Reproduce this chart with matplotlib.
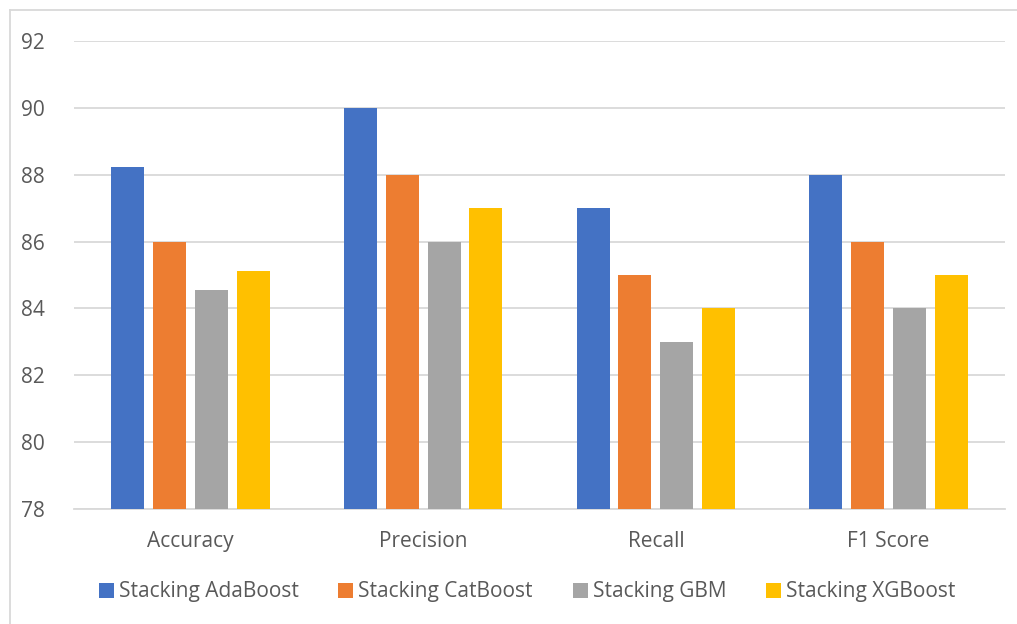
import matplotlib
matplotlib.use("Agg")
import matplotlib.pyplot as plt
from matplotlib.lines import Line2D
from matplotlib.patches import Patch
import numpy as np

categories = ["Accuracy", "Precision", "Recall", "F1 Score"]
series_names = ["Stacking AdaBoost", "Stacking CatBoost", "Stacking GBM", "Stacking XGBoost"]
adaboost = [88.22, 90, 87, 88]
catboost = [86, 88, 85, 86]
gbm = [84.55, 86, 83, 84]
xgboost = [85.12, 87, 84, 85]
y_ticks = [78, 80, 82, 84, 86, 88, 90, 92]

colors = ["#4472C4", "#ED7D31", "#A5A5A5", "#FFC000"]
text_color = "#595959"
grid_color = "#D9D9D9"

plt.rcParams["font.family"] = ["Open Sans", "DejaVu Sans"]

W, H = 1017, 624
fig = plt.figure(figsize=(W / 100, H / 100), dpi=100)
ax = fig.add_axes([74 / W, 1 - 509 / H, (1005 - 74) / W, (509 - 41) / H])

x = np.arange(len(categories))
bar_w = 0.142
step = 0.18
all_series = [adaboost, catboost, gbm, xgboost]
for i, (vals, col) in enumerate(zip(all_series, colors)):
    ax.bar(x + (i - 1.5) * step, np.array(vals) - 78, bottom=78, width=bar_w,
           color=col, zorder=3, linewidth=0)

ax.set_xlim(-0.5, len(categories) - 0.5)
ax.set_ylim(78, 92)
ax.set_yticks(y_ticks)
ax.set_xticks(x)
ax.set_xticklabels(categories)
ax.yaxis.grid(True, color=grid_color, linewidth=1.3, zorder=0)
ax.set_axisbelow(True)
for s in ["top", "right", "left"]:
    ax.spines[s].set_visible(False)
ax.spines["bottom"].set_color(grid_color)
ax.spines["bottom"].set_linewidth(1.3)
ax.tick_params(axis="both", length=0, colors=text_color, labelsize=15)
ax.tick_params(axis="y", pad=21)
ax.tick_params(axis="x", pad=16)

handles = [Patch(facecolor=c, edgecolor="none") for c in colors]
fig.legend(handles, series_names, loc="center", bbox_to_anchor=(527 / W, 1 - 592 / H),
           ncol=4, frameon=False, fontsize=15, labelcolor=text_color,
           handlelength=0.72, handleheight=0.72, handletextpad=0.25, columnspacing=1.9)

# chart frame
fig.add_artist(Line2D([10 / W, 1.0], [1 - 10 / H, 1 - 10 / H], color=grid_color, linewidth=1.3,
                      transform=fig.transFigure))
fig.add_artist(Line2D([10 / W, 10 / W], [0, 1 - 10 / H], color=grid_color, linewidth=1.3,
                      transform=fig.transFigure))

fig.savefig("out.png", dpi=100)
